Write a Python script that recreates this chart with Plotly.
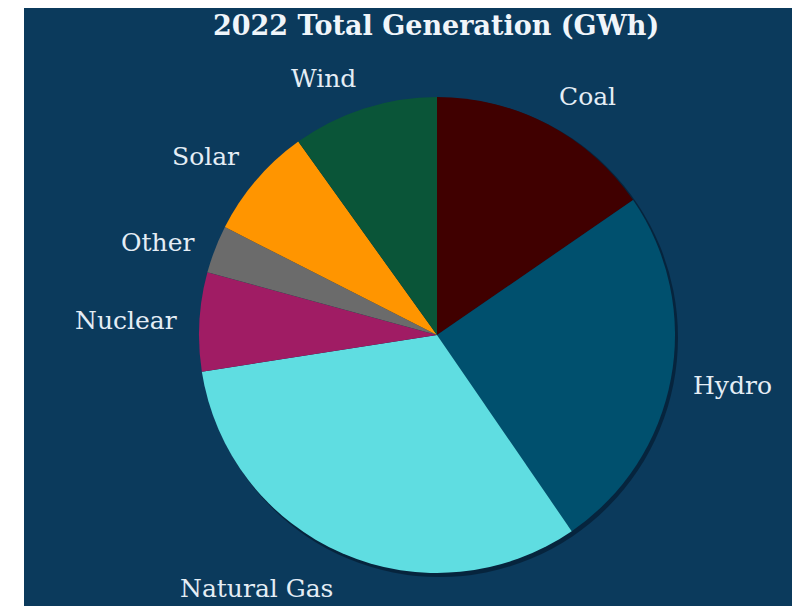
import math
import plotly.graph_objects as go

# ---- data ----
categories = ["Coal", "Hydro", "Natural Gas", "Nuclear", "Other", "Solar", "Wind"]
generation_gwh = [15400, 25000, 32100, 6700, 3250, 7600, 9900]
slice_colors = ["#400000", "#00506e", "#5fdde1", "#a01c64", "#6b6b6b", "#ff9500", "#0a5538"]
title_text = "2022 Total Generation (GWh)"

# ---- layout geometry (page pixels; page has an 8px body margin) ----
OFF = 8
W, H = 792, 598
CX, CY, R = 437, 335, 238
BG = "#0b3a5c"
TXT = "#e4edf5"


def px(x):
    return (x - OFF) / W


def py(y):
    return 1 - (y - OFF) / H


fig = go.Figure()
fig.add_trace(go.Pie(
    labels=categories,
    values=generation_gwh,
    sort=False,
    direction="clockwise",
    rotation=0,
    marker=dict(colors=slice_colors, line=dict(width=0)),
    textinfo="none",
    hoverinfo="label+value+percent",
    showlegend=False,
    domain=dict(x=[px(CX - R), px(CX + R)],
                y=[py(CY + R), py(CY - R)]),
))

shapes = [
    dict(type="rect", xref="paper", yref="paper", x0=px(24), x1=px(792), y0=py(606), y1=py(6),
         fillcolor=BG, line=dict(width=0), layer="below"),
    dict(type="circle", xref="paper", yref="paper",
         x0=px(CX - R + 2), x1=px(CX + R + 3), y0=py(CY + R + 4), y1=py(CY - R + 1),
         fillcolor="rgba(0,10,25,0.45)", line=dict(width=0), layer="below"),
]

annotations = [dict(text="<b>" + title_text + "</b>", x=px(436.5), y=py(8.5), xref="paper", yref="paper",
                    xanchor="center", yanchor="top", showarrow=False, borderpad=0,
                    font=dict(family="DejaVu Serif", size=27, color="#f0f5fa"))]

total = sum(generation_gwh)
cum = 0.0
RL = R + 20
for name, v in zip(categories, generation_gwh):
    mid = (cum + v / 2) / total * 2 * math.pi
    cum += v
    s, c = math.sin(mid), math.cos(mid)
    ax = CX + RL * s
    ay = CY - RL * c
    xa = "left" if s > 0.2 else ("right" if s < -0.2 else "center")
    if c > 0.5:
        ya, ay = "bottom", ay + 6
    elif c < -0.5:
        ya = "top"
    else:
        ya, ay = "middle", ay + (4 if s > 0 else 0)
    annotations.append(dict(text=name, x=px(ax), y=py(ay), xref="paper", yref="paper",
                            xanchor=xa, yanchor=ya, showarrow=False,
                            font=dict(family="DejaVu Serif", size=25, color=TXT)))

fig.update_layout(
    width=W, height=H,
    margin=dict(l=0, r=0, t=0, b=0),
    paper_bgcolor="white",
    plot_bgcolor="white",
    shapes=shapes,
    annotations=annotations,
)

fig.write_html("out.html")
